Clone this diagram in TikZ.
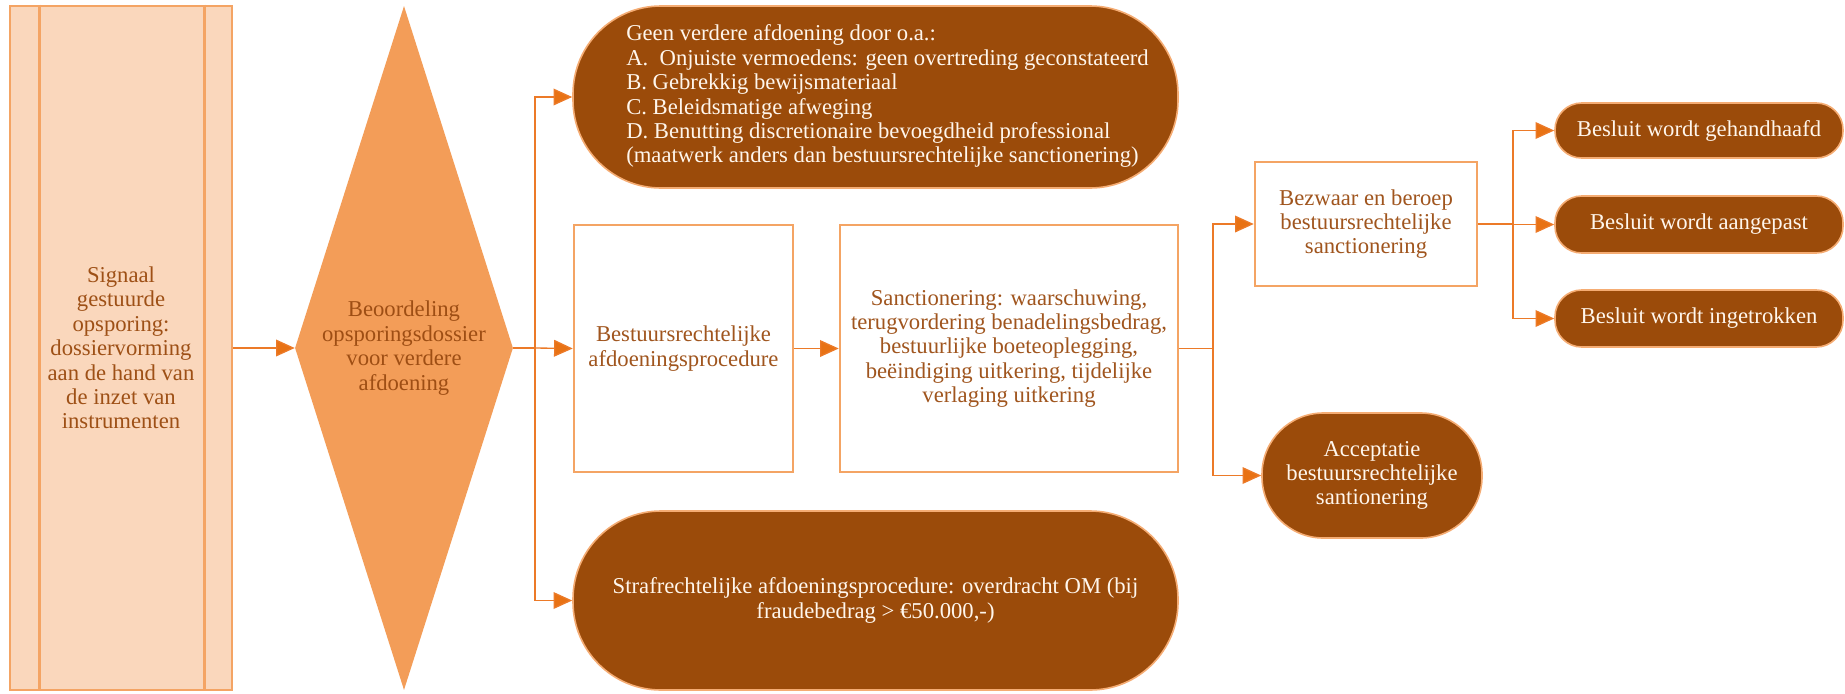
\documentclass[tikz,border=0pt]{standalone}
\usepackage{fontspec}
\setmainfont{Liberation Serif}
\usepackage{tikz}
\usetikzlibrary{arrows.meta,shapes.geometric}

\begin{document}
\begin{tikzpicture}[x=0.75pt,y=0.75pt,yscale=-1,xscale=1,
  font=\fontsize{17pt}{18.3pt}\selectfont,
  lightbox/.style={draw={rgb,255:red,244;green,164;blue,100}, line width=1.9pt, fill=white, text={rgb,255:red,160;green,85;blue,30}, align=center, inner sep=0pt},
  darkbox/.style={draw={rgb,255:red,245;green,172;blue,115}, line width=1.2pt, fill={rgb,255:red,155;green,75;blue,10}, text={rgb,255:red,255;green,246;blue,236}, rounded corners=#1, align=center, inner sep=0pt},
  conn/.style={draw={rgb,255:red,236;green,122;blue,40}, line width=1pt},
  arr/.style={conn, -{Triangle[length=14pt,width=12.5pt,fill={rgb,255:red,232;green,114;blue,20}]}}
]
\useasboundingbox (0,0) rectangle (1845,693);
\fill [white] (0,0) rectangle (1845,693);

%Shape: Rectangle
\draw (121,348) node (sig) [lightbox, fill={rgb,255:red,250;green,215;blue,188}, text={rgb,255:red,158;green,80;blue,22}, minimum width=166.5pt, minimum height=513pt] {Signaal\\gestuurde\\opsporing:\\dossiervorming\\aan de hand van\\de inzet van\\instrumenten};
%Straight Lines
\draw [draw={rgb,255:red,244;green,164;blue,100}, line width=1.9pt] ([xshift=23.25pt]sig.north west) -- ([xshift=23.25pt]sig.south west);
%Straight Lines
\draw [draw={rgb,255:red,244;green,164;blue,100}, line width=1.9pt] ([xshift=-21.75pt]sig.north east) -- ([xshift=-21.75pt]sig.south east);
%Shape: Diamond
\draw (404,348) node (dia) [diamond, aspect=0.3, inner sep=0pt, fill={rgb,255:red,243;green,157;blue,88}, text={rgb,255:red,158;green,78;blue,20}, align=center, minimum width=163.5pt, minimum height=513pt] {Beoordeling\\opsporingsdossier\\voor verdere\\afdoening};

%Rounded Rect
\draw (875.5,97) node (geen) [darkbox=66pt, minimum width=453.75pt, minimum height=136.5pt, align=none] {\hspace*{18pt}\begin{tabular}{@{}l@{}}Geen verdere afdoening door o.a.:\\A.~ Onjuiste vermoedens: geen overtreding geconstateerd\\B. Gebrekkig bewijsmateriaal\\C. Beleidsmatige afweging\\D. Benutting discretionaire bevoegdheid professional\\(maatwerk anders dan bestuursrechtelijke sanctionering)\end{tabular}};
%Shape: Rectangle
\draw (683.5,348.5) node (bestuur) [lightbox, minimum width=164.25pt, minimum height=185.25pt] {Bestuursrechtelijke\\afdoeningsprocedure};
%Shape: Rectangle
\draw (1009,348.5) node (sanct) [lightbox, minimum width=253.5pt, minimum height=185.25pt] {Sanctionering: waarschuwing,\\terugvordering benadelingsbedrag,\\bestuurlijke boeteoplegging,\\beëindiging uitkering, tijdelijke\\verlaging uitkering};
%Rounded Rect
\draw (875.5,600.5) node (straf) [darkbox=66pt, minimum width=453.75pt, minimum height=134.25pt] {Strafrechtelijke afdoeningsprocedure: overdracht OM (bij\\fraudebedrag > €50.000,-)};

%Shape: Rectangle
\draw (1366,224) node (bezw) [lightbox, minimum width=166.5pt, minimum height=93pt] {Bezwaar en beroep\\bestuursrechtelijke\\sanctionering};
%Rounded Rect
\draw (1372,475.5) node (accept) [darkbox=46pt, minimum width=165pt, minimum height=93.75pt] {Acceptatie\\bestuursrechtelijke\\santionering};
%Rounded Rect
\draw (1699,130.5) node (bes1) [darkbox=20pt, minimum width=216pt, minimum height=41.25pt] {Besluit wordt gehandhaafd};
%Rounded Rect
\draw (1699,224.5) node (bes2) [darkbox=20pt, minimum width=216pt, minimum height=42.75pt] {Besluit wordt aangepast};
%Rounded Rect
\draw (1699,318.5) node (bes3) [darkbox=20pt, minimum width=216pt, minimum height=42.75pt] {Besluit wordt ingetrokken};

% branch points
\coordinate (br1) at (535,348);
\coordinate (br2) at (1213,348.5);
\coordinate (br3) at (1513,224);

%Straight Lines
\draw [arr] (sig.east) -- (dia.west);
\draw [conn] (dia.east) -- (br1);
\draw [arr] (br1) |- (geen.west);
\draw [arr] (br1) -- (bestuur.west);
\draw [arr] (br1) |- (straf.west);
\draw [arr] (bestuur.east) -- (sanct.west);
\draw [conn] (sanct.east) -- (br2);
\draw [arr] (br2) |- (bezw.west);
\draw [arr] (br2) |- (accept.west);
\draw [conn] (bezw.east) -- (br3);
\draw [arr] (br3) |- (bes1.west);
\draw [arr] (br3) |- (bes2.west);
\draw [arr] (br3) |- (bes3.west);

\end{tikzpicture}
\end{document}
